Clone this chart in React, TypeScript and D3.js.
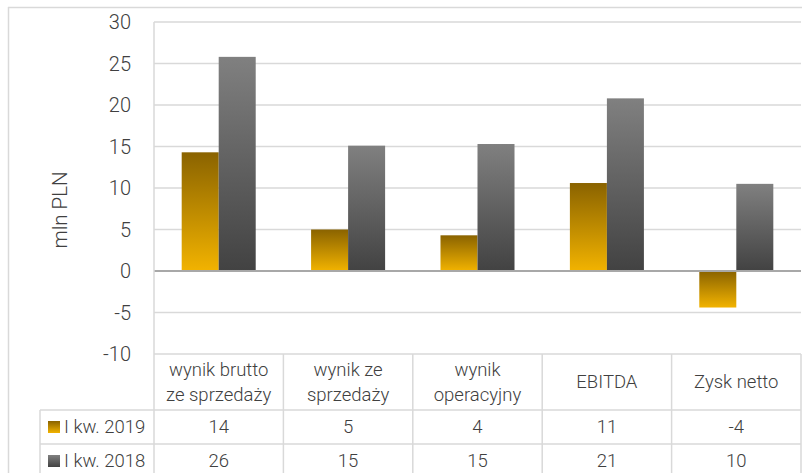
import React from "react";
import * as d3 from "d3";

const categories: string[][] = [
  ["wynik brutto", "ze sprzedaży"],
  ["wynik ze", "sprzedaży"],
  ["wynik", "operacyjny"],
  ["EBITDA"],
  ["Zysk netto"],
];
const seriesNames = ["I kw. 2019", "I kw. 2018"];
const values2019 = [14.3, 5.0, 4.3, 10.6, -4.4];
const values2018 = [25.8, 15.1, 15.3, 20.8, 10.5];
const table2019 = ["14", "5", "4", "11", "-4"];
const table2018 = ["26", "15", "15", "21", "10"];
const yTicks = [-10, -5, 0, 5, 10, 15, 20, 25, 30];

const W = 802;
const H = 473;
const plotLeft = 154;
const plotRight = 801;
const plotTop = 22;
const plotBottom = 354;
const headerBottom = 410;
const row1Bottom = 444;
const tableLeft = 40;
const grid = "#d9d9d9";
const textColor = "#404040";
const font = "Roboto, 'Noto Sans', sans-serif";

export default function App() {
  const y = d3.scaleLinear().domain([-10, 30]).range([plotBottom, plotTop]);
  const keys = categories.map((_, i) => String(i));
  const x = d3
    .scaleBand<string>()
    .domain(keys)
    .range([plotLeft, plotRight])
    .paddingInner(0.428)
    .paddingOuter(0.214);
  const step = x.step();
  const colX = (i: number) => plotLeft + i * step;
  const xs = d3.scaleBand<string>().domain(["a", "b"]).range([0, x.bandwidth()]);
  const series = [
    { name: seriesNames[0], vals: values2019, grad: "g2019", table: table2019 },
    { name: seriesNames[1], vals: values2018, grad: "g2018", table: table2018 },
  ];
  const rowTops = [headerBottom, row1Bottom];
  const rowH = row1Bottom - headerBottom;

  return (
    <svg
      width={W}
      height={H}
      style={{ position: "absolute", left: 0, top: 0, background: "#fff" }}
      fontFamily={font}
      fontWeight={300}
    >
      <defs>
        <linearGradient id="g2019" x1="0" y1="0" x2="0" y2="1">
          <stop offset="0" stopColor="#8a6300" />
          <stop offset="1" stopColor="#f2b300" />
        </linearGradient>
        <linearGradient id="g2018" x1="0" y1="0" x2="0" y2="1">
          <stop offset="0" stopColor="#808080" />
          <stop offset="1" stopColor="#424242" />
        </linearGradient>
      </defs>
      {/* outer border */}
      <line x1={8} x2={W} y1={7.5} y2={7.5} stroke={grid} strokeWidth={1.5} />
      <line x1={8.5} x2={8.5} y1={7} y2={H} stroke={grid} strokeWidth={1.5} />

      {/* gridlines */}
      {yTicks.map((t) => (
        <line
          key={t}
          x1={plotLeft}
          x2={plotRight}
          y1={y(t)}
          y2={y(t)}
          stroke={grid}
          strokeWidth={1.5}
        />
      ))}
      {/* y tick labels */}
      {yTicks.map((t) => (
        <text
          key={"l" + t}
          x={131}
          y={y(t)}
          dy="0.35em"
          textAnchor="end"
          fontSize={20}
          fill={textColor}
        >
          {t}
        </text>
      ))}
      <text
        transform={`translate(67,210) rotate(-90)`}
        textAnchor="middle"
        fontSize={20.5}
        fill={textColor}
      >
        mln PLN
      </text>

      {/* bars */}
      {series.map((s, si) =>
        s.vals.map((v, i) => {
          const x0 = (x(keys[i]) as number) + (xs(si === 0 ? "a" : "b") as number);
          const y0 = y(Math.max(0, v));
          const y1 = y(Math.min(0, v));
          return (
            <rect
              key={si + "-" + i}
              x={x0}
              y={y0}
              width={xs.bandwidth()}
              height={y1 - y0}
              fill={`url(#${s.grad})`}
            />
          );
        })
      )}
      {/* zero line */}
      <line
        x1={plotLeft}
        x2={plotRight}
        y1={y(0)}
        y2={y(0)}
        stroke="#a8a8a8"
        strokeWidth={2}
      />

      {/* table lines */}
      <line x1={plotLeft} x2={plotLeft} y1={plotTop} y2={H} stroke={grid} strokeWidth={1.5} />
      <line x1={tableLeft} x2={plotRight} y1={headerBottom} y2={headerBottom} stroke={grid} strokeWidth={1.5} />
      <line x1={tableLeft} x2={plotRight} y1={row1Bottom} y2={row1Bottom} stroke={grid} strokeWidth={1.5} />
      <line x1={tableLeft} x2={tableLeft} y1={headerBottom} y2={H} stroke={grid} strokeWidth={1.5} />
      {keys.map((k, i) => (
        <line
          key={"v" + k}
          x1={colX(i + 1)}
          x2={colX(i + 1)}
          y1={plotBottom}
          y2={H}
          stroke={grid}
          strokeWidth={1.5}
        />
      ))}

      {/* category labels */}
      {categories.map((lines, i) => {
        const cx = colX(i) + step / 2;
        const mid = (plotBottom + headerBottom) / 2;
        const lh = 25;
        const start = mid - ((lines.length - 1) * lh) / 2;
        return lines.map((ln, j) => (
          <text
            key={i + "-" + j}
            x={cx}
            y={start + j * lh}
            dy="0.35em"
            textAnchor="middle"
            fontSize={18.5}
            fill={textColor}
          >
            {ln}
          </text>
        ));
      })}

      {/* rows */}
      {series.map((s, si) => {
        const cy = rowTops[si] + rowH / 2;
        return (
          <g key={"row" + si}>
            <rect x={48} y={cy - 6} width={12} height={12} fill={`url(#${s.grad})`} />
            <text x={64} y={cy} dy="0.35em" fontSize={18.5} fill={textColor}>
              {s.name}
            </text>
            {s.table.map((tv, i) => (
              <text
                key={i}
                x={colX(i) + step / 2}
                y={cy}
                dy="0.35em"
                textAnchor="middle"
                fontSize={18.5}
                fill={textColor}
              >
                {tv}
              </text>
            ))}
          </g>
        );
      })}
    </svg>
  );
}
